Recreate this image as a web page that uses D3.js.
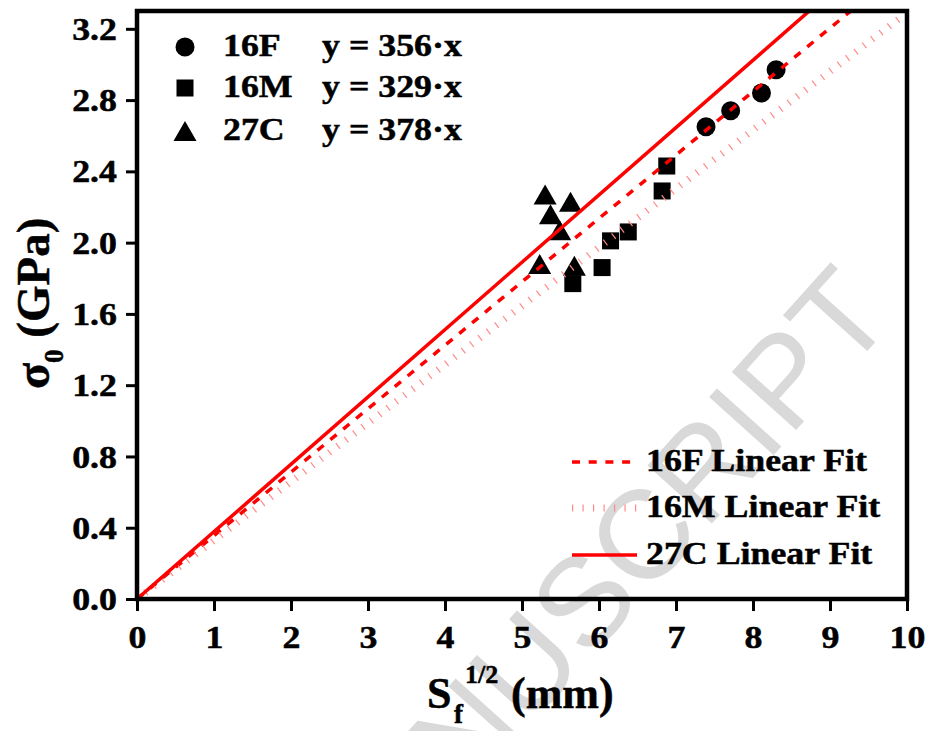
<!DOCTYPE html>
<html>
<head>
<meta charset="utf-8">
<script src="https://cdn.jsdelivr.net/npm/d3@7"></script>
<style>
  body { margin: 0; background: #fff; }
  svg { display: block; }
</style>
</head>
<body>
<svg id="chart" width="931" height="731"></svg>
<script>
// data (x: Sf^1/2 in mm, y: sigma0 in GPa)
var series = ['16F', '16M', '27C'];
var slopes = [356, 329, 378]; // MPa per mm^0.5, from the fit equations
var x16F = [7.39, 7.71, 8.11, 8.30];
var y16F = [2.65, 2.74, 2.84, 2.97];
var x16M = [5.66, 6.04, 6.15, 6.38, 6.82, 6.88];
var y16M = [1.77, 1.86, 2.01, 2.06, 2.29, 2.43];
var x27C = [5.23, 5.30, 5.37, 5.49, 5.63, 5.68];
var y27C = [1.88, 2.27, 2.16, 2.07, 2.23, 1.87];
var xTicks = [0, 1, 2, 3, 4, 5, 6, 7, 8, 9, 10];
var yTicks = [0, 0.4, 0.8, 1.2, 1.6, 2.0, 2.4, 2.8, 3.2];

var serif = '"Liberation Serif", "Times New Roman", serif';
var sx = 1.12; // figure text is a bit wider than normal Times

var svg = d3.select('#chart');
var pLeft = 137, pRight = 907, pTop = 11, pBottom = 599;

var x = d3.scaleLinear().domain([0, 10]).range([pLeft, pRight]);
var y = d3.scaleLinear().domain([0, 3.3]).range([pBottom, pTop]);

function bold(sel, size) {
  return sel.style('font-family', serif).style('font-size', size + 'px')
    .style('font-weight', 'bold').style('fill', '#000')
    .style('stroke', '#000').style('stroke-width', 0.5);
}

// watermark
svg.append('text')
  .attr('transform', 'translate(897,318) rotate(-48)')
  .attr('text-anchor', 'end')
  .style('font-family', '"Liberation Sans", Arial, sans-serif')
  .style('font-size', '126px')
  .style('fill', '#d9d9d9')
  .text('ACCEPTED MANUSCRIPT');

svg.append('clipPath').attr('id', 'plot')
  .append('rect')
  .attr('x', pLeft).attr('y', pTop)
  .attr('width', pRight - pLeft).attr('height', pBottom - pTop);

// markers
var pts = svg.append('g');
pts.selectAll('circle').data(d3.zip(x16F, y16F)).enter().append('circle')
  .attr('cx', function(d) { return x(d[0]); })
  .attr('cy', function(d) { return y(d[1]); })
  .attr('r', 9.5).style('fill', '#000');

pts.selectAll('rect').data(d3.zip(x16M, y16M)).enter().append('rect')
  .attr('x', function(d) { return x(d[0]) - 8.5; })
  .attr('y', function(d) { return y(d[1]) - 8.5; })
  .attr('width', 17).attr('height', 17).style('fill', '#000');

function tri(cx, cy) {
  return 'M' + cx + ',' + (cy - 10) + 'L' + (cx + 11.5) + ',' + (cy + 10) +
    'L' + (cx - 11.5) + ',' + (cy + 10) + 'Z';
}
pts.selectAll('path').data(d3.zip(x27C, y27C)).enter().append('path')
  .attr('d', function(d) { return tri(x(d[0]), y(d[1])); })
  .style('fill', '#000');

// fit lines y = k*x
var styles = [
  { stroke: '#ff0000', width: 3.5, dash: '8,8.7' },
  { stroke: '#ff8a8a', width: 7, dash: '1.2,9.3' },
  { stroke: '#ff0000', width: 3.5, dash: null }
];
var line = d3.line().x(function(d) { return x(d[0]); }).y(function(d) { return y(d[1]); });
var fits = svg.append('g').attr('clip-path', 'url(#plot)');
slopes.forEach(function(k, i) {
  var s = styles[i];
  fits.append('path')
    .datum([[0, 0], [10, 10 * k / 1000]])
    .attr('d', line)
    .style('fill', 'none')
    .style('stroke', s.stroke)
    .style('stroke-width', s.width)
    .style('stroke-dasharray', s.dash);
});

// axes
var xMinor = d3.range(0, 10.01, 0.2);
var yMinor = d3.range(0, 3.21, 0.2);

var gx = svg.append('g').attr('transform', 'translate(0,' + pBottom + ')');
gx.call(d3.axisBottom(x).tickValues(xMinor).tickSize(6).tickFormat(''));
gx.call(d3.axisBottom(x).tickValues(xTicks).tickSize(12).tickFormat(d3.format('d')));
gx.selectAll('.domain').remove();
gx.selectAll('line').style('stroke', '#000').style('stroke-width', 3);
bold(gx.selectAll('text'), 32)
  .attr('y', 49).attr('dy', 0)
  .attr('transform', 'scale(' + sx + ',1)');

var gy = svg.append('g').attr('transform', 'translate(' + pLeft + ',0)');
gy.call(d3.axisLeft(y).tickValues(yMinor).tickSize(6).tickFormat(''));
gy.call(d3.axisLeft(y).tickValues(yTicks).tickSize(11).tickFormat(d3.format('.1f')));
gy.selectAll('.domain').remove();
gy.selectAll('line').style('stroke', '#000').style('stroke-width', 3);
bold(gy.selectAll('text'), 32)
  .attr('x', -20 / sx).attr('dy', '0.33em')
  .attr('transform', 'scale(' + sx + ',1)');

// frame
svg.append('rect')
  .attr('x', pLeft).attr('y', pTop)
  .attr('width', pRight - pLeft).attr('height', pBottom - pTop)
  .style('fill', 'none').style('stroke', '#000').style('stroke-width', 4.5);

// axis titles
var xt = bold(svg.append('text'), 44);
xt.append('tspan').attr('x', 427).attr('y', 708).style('font-size', '44px').text('S');
xt.append('tspan').attr('x', 454).attr('y', 723).style('font-size', '27px').text('f');
xt.append('tspan').attr('x', 465).attr('y', 683).style('font-size', '26px').text('1/2');
xt.append('tspan').attr('x', 511).attr('y', 708).style('font-size', '44px').text('(mm)');

var yt = bold(svg.append('text'), 47)
  .attr('transform', 'translate(49,389) rotate(-90)');
yt.append('tspan').style('font-size', '48px').text('\u03c3');
yt.append('tspan').attr('dy', 14).style('font-size', '27px').text('0');
yt.append('tspan').attr('dy', -14).style('font-size', '47px').text(' (GPa)');

// legend: symbols + equations
var legY = [47, 88, 131];
var leg = svg.append('g');
leg.append('circle').attr('cx', 185).attr('cy', legY[0]).attr('r', 9.5).style('fill', '#000');
leg.append('rect').attr('x', 185 - 8.5).attr('y', legY[1] - 8.5).attr('width', 17).attr('height', 17).style('fill', '#000');
leg.append('path').attr('d', tri(185, legY[2])).style('fill', '#000');
series.forEach(function(name, i) {
  bold(leg.append('text'), 32)
    .attr('transform', 'translate(223,' + (legY[i] + 9) + ') scale(' + sx + ',1)')
    .text(name);
  bold(leg.append('text'), 32)
    .attr('transform', 'translate(322,' + (legY[i] + 9) + ') scale(' + sx + ',1)')
    .text('y = ' + slopes[i] + '\u00b7x');
});

// legend: fit lines
var fitY = [462, 508, 555];
var leg2 = svg.append('g');
series.forEach(function(name, i) {
  var s = styles[i];
  leg2.append('line')
    .attr('x1', 572).attr('x2', 637).attr('y1', fitY[i]).attr('y2', fitY[i])
    .style('stroke', s.stroke).style('stroke-width', s.width)
    .style('stroke-dasharray', s.dash);
  bold(leg2.append('text'), 32)
    .attr('transform', 'translate(646,' + (fitY[i] + 9) + ') scale(' + sx + ',1)')
    .text(name + ' Linear Fit');
});
</script>
</body>
</html>
